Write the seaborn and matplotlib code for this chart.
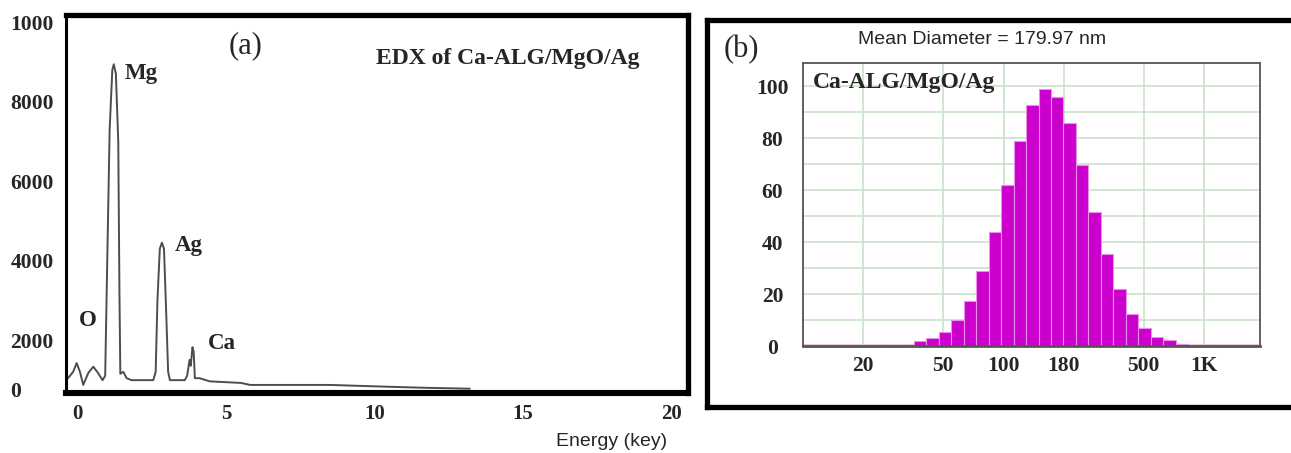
import numpy as np
import matplotlib
matplotlib.use("Agg")
import matplotlib.pyplot as plt
import seaborn as sns
from matplotlib.ticker import FixedLocator, NullLocator

# --------------------------------------------------------------------------
# Data
# --------------------------------------------------------------------------
# (a) EDX spectrum: energy (keV) vs counts (in the units of the printed axis)
edx_energy = [-0.33, -0.16, -0.04, 0.07, 0.18, 0.35, 0.52, 0.68, 0.83, 0.92,
              0.97, 1.07, 1.16, 1.21, 1.28, 1.36, 1.40, 1.43, 1.53, 1.64,
              1.81, 2.54, 2.62, 2.68, 2.76, 2.83, 2.90, 2.97, 3.04, 3.10,
              3.60, 3.68, 3.76, 3.80, 3.86, 3.90, 3.94, 4.10, 4.44, 5.50,
              5.80, 8.50, 10.2, 11.6, 13.2]
edx_counts = [1040, 1200, 1420, 1200, 870, 1170, 1330, 1170, 990, 1100,
              3200, 7300, 8800, 8940, 8700, 7000, 3200, 1150, 1200, 1040,
              990, 990, 1200, 3000, 4300, 4450, 4300, 2800, 1200, 990,
              990, 1100, 1500, 1350, 1820, 1700, 1040, 1040, 960, 920,
              870, 870, 830, 800, 775]
edx_xticks = [0, 5, 10, 15, 20]
edx_ytick_pos = [750, 2000, 4000, 6000, 8000, 10000]
edx_ytick_labels = ["0", "2000", "4000", "6000", "8000", "1000"]
peak_names = ["O", "Mg", "Ag", "Ca"]
peak_x = [0.32, 2.12, 3.75, 4.85]
peak_y = [2500, 8720, 4390, 1920]

# (b) particle size distribution
diam_nm = [25, 29, 33.4, 38.5, 44.5, 51, 59.5, 69, 79, 91, 105, 121, 139, 160,
           185, 213, 246, 284, 327, 377, 438, 507, 585, 671, 773, 891, 1030]
intensity = [0.4, 0, 0.5, 2.0, 3.0, 5.2, 10.2, 17.3, 29, 44, 62, 79, 93, 99,
             96, 86, 69.6, 51.5, 35.4, 22, 12.3, 7, 3.5, 2.2, 0.7, 0, 0.5]
size_ticks = [20, 50, 100, 200, 500, 1000]
size_tick_labels = ["20", "50", "100", "180", "500", "1K"]
int_ticks = [0, 20, 40, 60, 80, 100]

# --------------------------------------------------------------------------
# Style
# --------------------------------------------------------------------------
sns.set_style("white")
plt.rcParams["font.family"] = ["Liberation Serif", "DejaVu Serif"]
SERIF_B = dict(family="Liberation Serif", weight="bold")
SANS = ["Liberation Sans", "DejaVu Sans"]

W, H = 1291, 453
fig = plt.figure(figsize=(W / 100, H / 100), dpi=100)


def fig_rect(x0, y0, x1, y1):
    # pixel box (top-left origin) -> figure fraction rect
    return [x0 / W, 1 - y1 / H, (x1 - x0) / W, (y1 - y0) / H]


# --------------------------------------------------------------------------
# (a) EDX
# --------------------------------------------------------------------------
axa = fig.add_axes(fig_rect(66, 15, 688, 393))
sns.lineplot(x=edx_energy, y=edx_counts, estimator=None, color="#4d4d4d",
             lw=1.4, ax=axa)
axa.set_xlim(-0.4, 20.55)
axa.set_ylim(667, 10180)
axa.set_xticks(edx_xticks)
axa.set_xticklabels([str(v) for v in edx_xticks], **SERIF_B, fontsize=15)
axa.set_yticks(edx_ytick_pos)
axa.set_yticklabels(edx_ytick_labels, **SERIF_B, fontsize=15.5)
for t in axa.get_yticklabels():
    t.set_ha("left")
axa.tick_params(axis="y", length=0, pad=40)
axa.tick_params(axis="x", length=0, pad=8)
for side, lw in [("top", 3.8), ("bottom", 4.4), ("right", 3.8), ("left", 2.2)]:
    axa.spines[side].set_visible(True)
    axa.spines[side].set_linewidth(lw)
    axa.spines[side].set_color("black")

for name, px, py in zip(peak_names, peak_x, peak_y):
    axa.text(px, py, name, ha="center", va="center", fontsize=16.5, **SERIF_B)
axa.text(0.288, 0.918, "(a)", transform=axa.transAxes, ha="center",
         va="center", fontsize=22, family="Liberation Serif")
axa.text(0.71, 0.886, "EDX of Ca-ALG/MgO/Ag", transform=axa.transAxes,
         ha="center", va="center", fontsize=17, **SERIF_B)
fig.text(612 / W, 1 - 442 / H, "Energy (key)", ha="center", va="center",
         fontsize=14, family=SANS)

# --------------------------------------------------------------------------
# (b) size distribution
# --------------------------------------------------------------------------
frame = fig.add_axes(fig_rect(707, 20, 1300, 407))
frame.set_xticks([])
frame.set_yticks([])
frame.patch.set_alpha(0)
for side in frame.spines:
    frame.spines[side].set_linewidth(3.8)
    frame.spines[side].set_color("black")

axb = fig.add_axes(fig_rect(803, 63, 1260, 346))
log_d = np.log10(diam_nm)
bw = np.diff(log_d).mean()
sns.histplot(x=diam_nm, weights=intensity, log_scale=True, binwidth=bw,
             binrange=(log_d[0] - bw / 2, log_d[-1] + bw / 2),
             color="#cc00cc", edgecolor="#ea8fea", linewidth=0.8, alpha=1,
             ax=axb)
axb.set_xlim(10, 1900)
axb.set_ylim(0, 109)
axb.set_axisbelow(True)
axb.xaxis.set_major_locator(FixedLocator(size_ticks))
axb.xaxis.set_minor_locator(NullLocator())
axb.set_xticklabels(size_tick_labels, **SERIF_B, fontsize=15.5)
axb.set_yticks(int_ticks)
axb.set_yticks(np.arange(10, 100, 20), minor=True)
axb.set_yticklabels([str(v) for v in int_ticks], **SERIF_B, fontsize=15.5)
for t in axb.get_yticklabels():
    t.set_ha("center")
axb.tick_params(axis="y", which="both", length=0, pad=22)
axb.tick_params(axis="x", which="both", length=0, pad=7)
axb.grid(True, which="both", color="#c9e2c9", lw=1.2)
axb.axhline(0.5, color="#f2c4da", lw=1.5, zorder=0.5)
axb.set_xlabel("")
axb.set_ylabel("")
for side in axb.spines:
    axb.spines[side].set_color("#555555")
    axb.spines[side].set_linewidth(1.3)
axb.spines["bottom"].set_linewidth(2)

axb.text(0.022, 0.93, "Ca-ALG/MgO/Ag", transform=axb.transAxes, ha="left",
         va="center", fontsize=17, **SERIF_B)
fig.text(741 / W, 1 - 50 / H, "(b)", ha="center", va="center", fontsize=22,
         family="Liberation Serif")
fig.text(982 / W, 1 - 40 / H, "Mean Diameter = 179.97 nm", ha="center",
         va="center", fontsize=14, family=SANS)

fig.savefig("out.png", dpi=100, facecolor="white")
